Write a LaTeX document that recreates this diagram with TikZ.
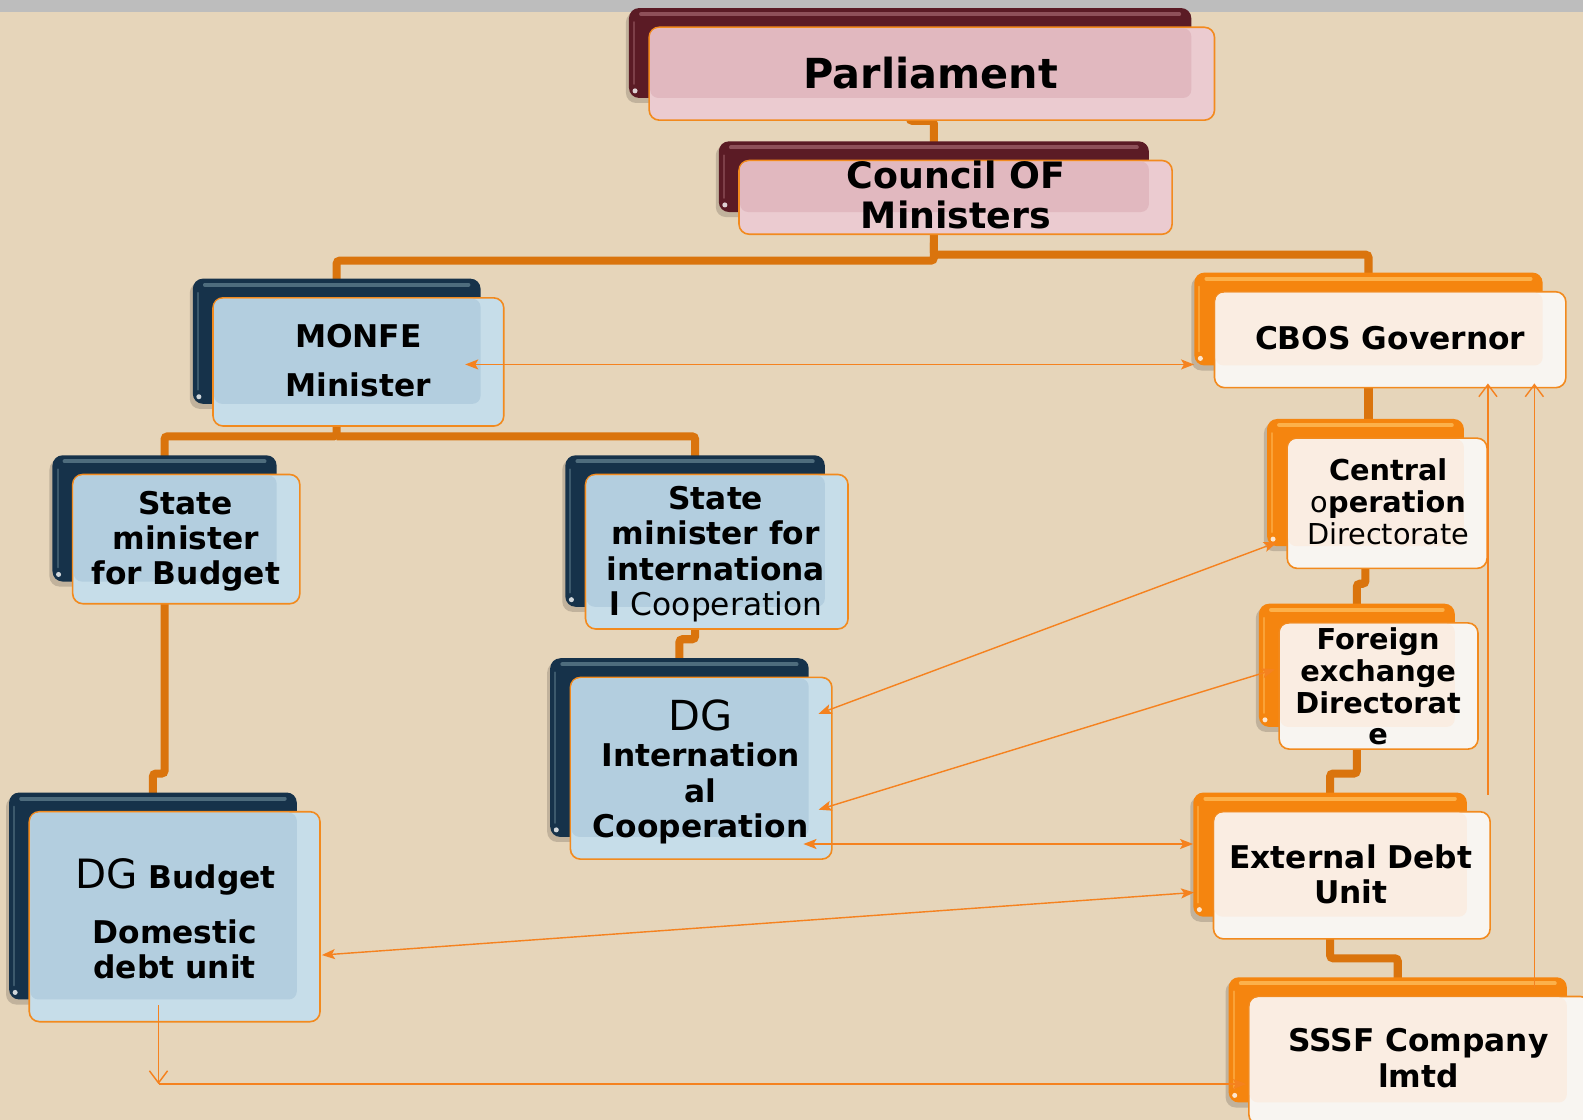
\documentclass[tikz,border=0pt]{standalone}
\usepackage{fontspec}
\setmainfont{DejaVu Sans}
\usetikzlibrary{arrows.meta,calc}

% palette
\definecolor{paper}{HTML}{E6D5BA}
\definecolor{topbar}{HTML}{BDBDBD}
\definecolor{trunk}{HTML}{DA740D}
\definecolor{wire}{HTML}{F5821F}
\definecolor{rim}{HTML}{F28A1E}
\definecolor{pinkback}{HTML}{5B1B25}
\definecolor{pinkhi}{HTML}{A0636B}
\definecolor{pinkin}{HTML}{E1B8BF}
\definecolor{pinkout}{HTML}{EBCBD0}
\definecolor{blueback}{HTML}{16324A}
\definecolor{bluehi}{HTML}{62808F}
\definecolor{bluein}{HTML}{B3CEDF}
\definecolor{blueout}{HTML}{C6DDE9}
\definecolor{creamback}{HTML}{F5850F}
\definecolor{creamhi}{HTML}{FFC060}
\definecolor{creamin}{HTML}{FAEDE2}
\definecolor{creamout}{HTML}{F8F5F1}

\pgfdeclarelayer{base}
\pgfdeclarelayer{conn}
\pgfsetlayers{base,conn,main}

\tikzset{
  backbox/.style={rectangle, rounded corners=10pt, inner sep=0pt, fill=#1back},
  frontbox/.style={rectangle, rounded corners=10pt, inner sep=0pt, fill=#1out, draw=rim, line width=1.6pt},
  txt/.style={align=center, inner sep=0pt, text=black, font=\bfseries\fontsize{31}{35}\selectfont},
  trunkline/.style={draw=trunk, line width=8pt, rounded corners=3pt},
  wireline/.style={draw=wire, line width=1.4pt},
  tip/.tip={Stealth[length=13pt, width=10pt, inset=3pt]},
  vtip/.tip={Straight Barb[length=12pt, width=18pt]},
}

% a two-layer card: back plate (x0,y0)-(x1,y1) and a glossy front plate offset to the lower right
\newcommand\card[6]{%
  \fill[black, opacity=0.16, rounded corners=10pt] ({#3-3},{#4+4}) rectangle ({#5-3},{#6+5});
  \node[backbox=#2, minimum width={(#5-#3)*1pt}, minimum height={(#6-#4)*1pt}] (#1-b) at ({(#3+#5)/2},{(#4+#6)/2}) {};
  \draw[#2hi, line width=4pt, line cap=round, opacity=0.75] ({#3+12},{#4+6}) -- ({#5-12},{#4+6});
  \draw[#2hi, line width=2pt, line cap=round, opacity=0.5] ({#3+5},{#4+14}) -- ({#3+5},{#6-14});
  \fill[white, opacity=0.8] ({#3+6},{#6-7}) circle (2.5pt);
  \node[frontbox=#2, minimum width={(#5-#3+3)*1pt}, minimum height={(#6-#4+3)*1pt}] (#1) at ({(#3+#5)/2+21.5},{(#4+#6)/2+20.5}) {};
  \fill[#2in, rounded corners=8pt] ({#3+21},{#4+20}) rectangle (#5,#6);
}

\begin{document}
\begin{tikzpicture}[x=1pt, y=-1pt]
\useasboundingbox (0,0) rectangle (1568,1109);
\clip (0,0) rectangle (1568,1109);
\begin{pgfonlayer}{base}
  \fill[paper] (0,0) rectangle (1568,1109);
  \fill[topbar] (0,0) rectangle (1568,12);
\end{pgfonlayer}

% cards
\card{parl}{pink}{623}{8}{1180}{97}
\card{council}{pink}{712}{140}{1138}{210}
\card{monfe}{blue}{191}{276}{476}{400}
\card{cbos}{cream}{1183}{270}{1528}{362}
\card{stateb}{blue}{52}{451}{274}{576}
\card{statei}{blue}{560}{451}{817}{601}
\card{dgi}{blue}{545}{652}{801}{829}
\card{dgb}{blue}{9}{785}{294}{990}
\card{central}{cream}{1255}{415}{1450}{541}
\card{forex}{cream}{1247}{598}{1441}{720}
\card{ext}{cream}{1182}{785}{1453}{908}
\card{sssf}{cream}{1217}{968}{1552}{1092}

% labels
\node[txt, font=\bfseries\fontsize{41}{45}\selectfont] (parl-t) at (922,72) {Parliament};
\node[txt, font=\bfseries\fontsize{36}{40}\selectfont] (council-t) at (947,193) {Council OF\\Ministers};
\node[txt, font=\bfseries\fontsize{31}{48}\selectfont] (monfe-t) at (355,357) {MONFE\\Minister};
\node[txt] (cbos-t) at (1377,335) {CBOS Governor};
\node[txt] (stateb-t) at (184,536) {State\\minister\\for Budget};
\node[txt] (statei-t) at (709,549) {State\\minister for\\internationa\\l {\mdseries Cooperation}};
\node[txt, font=\mdseries\fontsize{41}{45}\selectfont] (dgi-dg) at (694,709) {DG};
\node[txt] (dgi-t) at (694,786) {Internation\\al\\Cooperation};
\node[txt, anchor=base] (dgb-dg) at (174,880) {{\mdseries\fontsize{40}{44}\selectfont DG} Budget};
\node[txt] (dgb-t) at (173,940) {Domestic\\debt unit};
\node[txt, font=\bfseries\fontsize{28.5}{31.5}\selectfont] (central-t) at (1375,497) {Central\\{\mdseries o}peration\\{\mdseries Directorate}};
\node[txt, font=\bfseries\fontsize{28.5}{31.5}\selectfont] (forex-t) at (1365,680) {Foreign\\exchange\\Directorat\\e};
\node[txt] (ext-t) at (1338,866) {External Debt\\Unit};
\node[txt] (sssf-t) at (1405,1048) {SSSF Company\\lmtd};

% hierarchy trunks, behind the cards
\begin{pgfonlayer}{conn}
  \draw[trunkline] ($(parl.south)+(-22,-6)$) |- ($(council-b.north)+(0,-20)$) -- ($(council-b.north)+(0,4)$);
  \draw[trunkline] (council-b.south) -- ++(0,48) -| ($(monfe-b.north)+(0,4)$);
  \draw[trunkline] ($(council-b.south)+(0,30)$) -- ++(0,12) -| ($(cbos-b.north)+(0,4)$);
  \draw[trunkline] (monfe-b.south) -- ++(0,32) -| ($(stateb-b.north)+(0,4)$);
  \draw[trunkline] ($(monfe-b.south)+(0,32)$) -| ($(statei-b.north)+(0,4)$);
  \draw[trunkline] (stateb-b.south) -- ++(0,190) -| ($(dgb-b.north)+(0,4)$);
  \draw[trunkline] (statei-b.south) -- ++(0,32) -| ($(dgi-b.north)+(0,4)$);
  \draw[trunkline] (cbos-b.south) -- ($(cbos-b.south |- central-b.north)+(0,4)$);
  \draw[trunkline] (central-b.south) -- ++(0,37) -| ($(forex-b.north)+(0,4)$);
  \draw[trunkline] (forex-b.south) -- ++(0,46) -| ($(ext-b.north)+(0,4)$);
  \draw[trunkline] (ext-b.south) -- ++(0,41) -| ($(sssf-b.north)+(0,4)$);
\end{pgfonlayer}

% working links
\coordinate (m1) at ($(monfe.east)+(-39,2.5)$);
\draw[wireline, tip-tip] (m1) -- (m1 -| cbos-b.west);
\draw[wireline, tip-tip] ($(central-b.south west)+(10,-4)$) -- ($(dgi.east)+(-14,-54)$);
\draw[wireline, tip-tip] ($(forex-b.west)+(16,4)$) -- ($(dgi.east)+(-14,41)$);
\coordinate (d1) at ($(dgi.east)+(-29,75)$);
\draw[wireline, tip-tip] (d1) -- (d1 -| ext-b.west);
\draw[wireline, tip-tip] ($(ext-b.west)+(1,37.5)$) -- ($(dgb.east)+(1,38)$);
\coordinate (s0) at ($(dgb.south)+(-16,-17)$);
\coordinate (s1) at ($(s0)+(0,78)$);
\draw[wireline, -vtip] (s0) -- (s1);
\draw[wireline, -tip] (s1) -- ($(sssf.west |- s1)+(-2,0)$);
\coordinate (u1) at ($(ext.north east)+(-3,-16)$);
\draw[wireline, -vtip] (u1) -- ($(u1 |- cbos.south)+(0,-5)$);
\coordinate (u2) at ($(sssf-b.north west)+(303,11)$);
\draw[wireline, -vtip] (u2) -- ($(u2 |- cbos.south)+(0,-5)$);
\end{tikzpicture}
\end{document}
